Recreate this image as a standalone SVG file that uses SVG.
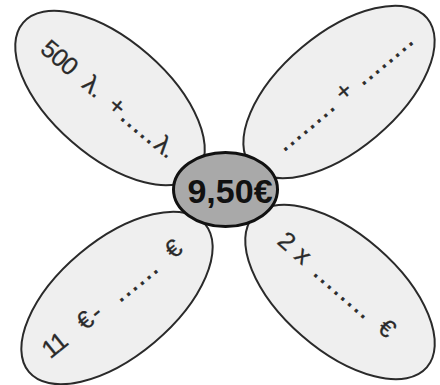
<svg xmlns="http://www.w3.org/2000/svg" width="440" height="385" viewBox="0 0 440 385">
<style>
.petal{fill:#efefef;stroke:#2a2a2a;stroke-width:2}
.core{fill:#a9a9a9;stroke:#111;stroke-width:3}
.lbl{font-family:"Liberation Sans",Arial,sans-serif;font-size:25px;fill:#2a2a2a;text-anchor:middle;stroke:#2a2a2a;stroke-width:0.3}
.dots{text-anchor:start;stroke-width:0.6}
.num{letter-spacing:-1px}
.big{font-family:"Liberation Sans",Arial,sans-serif;font-size:34px;font-weight:bold;fill:#111;text-anchor:middle}
</style>
<rect width="440" height="385" fill="#fff"/>
<g id="petal-tl">
<ellipse class="petal" cx="110" cy="98" rx="115" ry="58" transform="rotate(41 110 98)"/>
<text class="lbl" transform="translate(122 121) rotate(40)"><tspan class="num" x="-89">500</tspan><tspan x="-44">λ.</tspan><tspan x="-13.4">+</tspan><tspan class="dots" letter-spacing="1.55" x="-3.5">.....</tspan><tspan x="50">λ.</tspan></text>
</g>
<g id="petal-tr">
<ellipse class="petal" cx="339" cy="92" rx="115" ry="58" transform="rotate(-40 339 92)"/>
<text class="lbl" transform="translate(286.7 150) rotate(-40)"><tspan class="dots" letter-spacing="1.75" x="-3.5">........</tspan><tspan x="81.5">+</tspan><tspan class="dots" letter-spacing="1.75" x="99">........</tspan></text>
</g>
<g id="petal-bl">
<ellipse class="petal" cx="117" cy="298" rx="115" ry="58" transform="rotate(-40 117 298)"/>
<text class="lbl" transform="translate(157 273) rotate(-39)"><tspan class="num" x="-125.3">11</tspan><tspan x="-85.8">€</tspan><tspan x="-72">-</tspan><tspan class="dots" letter-spacing="1.85" x="-47.7">......</tspan><tspan x="27.9">€</tspan></text>
</g>
<g id="petal-br">
<ellipse class="petal" cx="340" cy="292" rx="115" ry="58" transform="rotate(41 340 292)"/>
<text class="lbl" transform="translate(315 276.7) rotate(41)"><tspan x="-44.6">2</tspan><tspan x="-23">x</tspan><tspan class="dots" letter-spacing="1.95" x="-3.5">........</tspan><tspan x="88.2">€</tspan></text>
</g>
<g id="center">
<ellipse class="core" cx="225.5" cy="189.5" rx="52" ry="37"/>
<text class="big" x="230" y="203">9,50€</text>
</g>
</svg>
